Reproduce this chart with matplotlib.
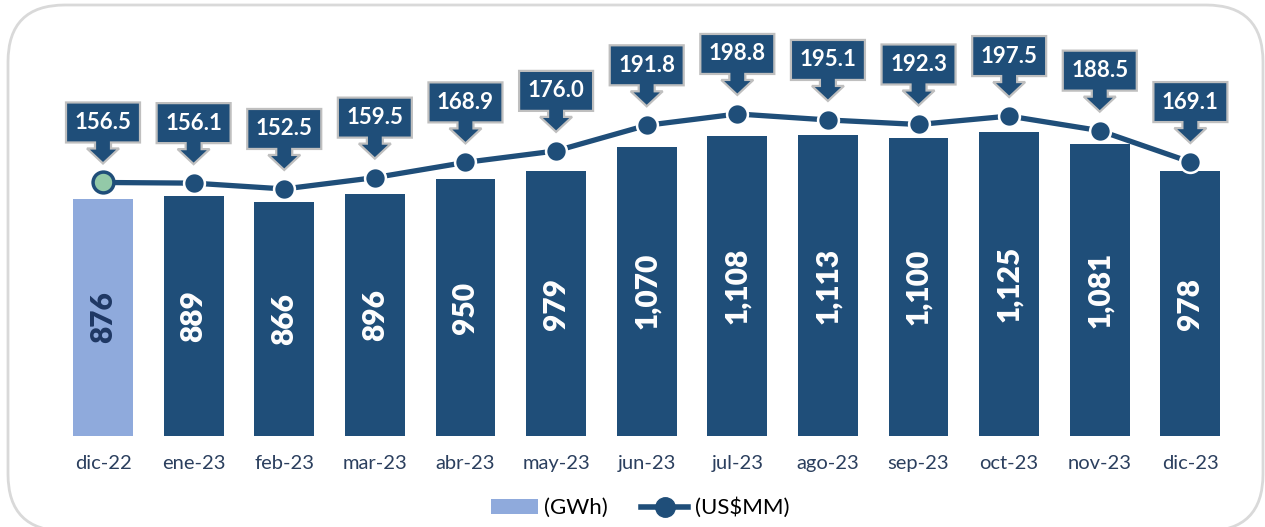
import matplotlib
matplotlib.use("Agg")
import matplotlib.pyplot as plt
from matplotlib.patches import Polygon, FancyBboxPatch, Patch
from matplotlib.lines import Line2D
from matplotlib.transforms import ScaledTranslation

plt.rcParams['font.family'] = ['Lato', 'DejaVu Sans']

months = ["dic-22", "ene-23", "feb-23", "mar-23", "abr-23", "may-23", "jun-23",
          "jul-23", "ago-23", "sep-23", "oct-23", "nov-23", "dic-23"]
gwh = [876, 889, 866, 896, 950, 979, 1070, 1108, 1113, 1100, 1125, 1081, 978]
usd = [156.5, 156.1, 152.5, 159.5, 168.9, 176.0, 191.8, 198.8, 195.1, 192.3, 197.5, 188.5, 169.1]

dark = "#1F4E79"
light = "#8FAADC"
navy_txt = "#1F3864"

W, H = 1265, 527
fig = plt.figure(figsize=(W / 100, H / 100), dpi=100)

# rounded frame
frame = FancyBboxPatch((8 / W, -4 / H), (1263 - 8) / W, (522 + 4) / H,
                       boxstyle="round,pad=0,rounding_size=0.045",
                       transform=fig.transFigure, fc="none", ec="#D9D9D9",
                       lw=2, mutation_aspect=W / H, zorder=-1)
fig.patches.append(frame)

ax = fig.add_axes([57.7 / W, (H - 436) / H, 1178 / W, 416 / H])
ax.set_facecolor("none")
x = list(range(len(months)))
colors = [light] + [dark] * (len(months) - 1)
ax.bar(x, gwh, width=0.66, color=colors, zorder=2)
ax.set_xlim(-0.5, len(months) - 0.5)
ax.set_ylim(0, 1538)
for i, v in enumerate(gwh):
    ax.text(i, v / 2, f"{v:,}", rotation=90, ha="center", va="center",
            fontsize=21.5, fontweight="heavy",
            color=navy_txt if i == 0 else "white", zorder=3)

ax.set_xticks(x)
ax.set_xticklabels(months, fontsize=14.5, color="#2B3F5E")
ax.tick_params(axis="x", length=0, pad=14)
ax.set_yticks([])
for s in ax.spines.values():
    s.set_visible(False)

ax2 = ax.twinx()
ax2.set_ylim(0, 256.8)
ax2.set_yticks([])
for s in ax2.spines.values():
    s.set_visible(False)
ax2.plot(x, usd, color=dark, lw=3.8, zorder=4, solid_capstyle="butt")
mfc = ["#93C9A8"] + [dark] * (len(months) - 1)
mec = [dark] + ["white"] * (len(months) - 1)
for i, v in enumerate(usd):
    ax2.plot(i, v, marker="o", ms=15, mfc=mfc[i], mec=mec[i], mew=1.8 if i else 2.5, zorder=5)

# callouts (shape in pixels relative to the marker)
shape = [(-37, 40), (-37, 80), (37, 80), (37, 40), (8, 40), (8, 34), (16, 34),
         (0, 19), (-16, 34), (-8, 34), (-8, 40)]
shape_in = [(a / 100, b / 100) for a, b in shape]
for i, v in enumerate(usd):
    tr = fig.dpi_scale_trans + ScaledTranslation(i, v, ax2.transData)
    poly = Polygon(shape_in, closed=True, fc=dark, ec="#BFBFBF", lw=1.6,
                   transform=tr, zorder=6, clip_on=False)
    ax2.add_patch(poly)
    ax2.text(0, 0.60, f"{v:.1f}", transform=tr, ha="center", va="center",
             fontsize=16, fontweight="bold", color="white", zorder=7)

handles = [Patch(fc=light, ec="none"),
           Line2D([0], [0], color=dark, lw=4, marker="o", ms=14, mfc=dark, mec=dark)]
fig.legend(handles, ["(GWh)", "(US$MM)"], loc="center", bbox_to_anchor=(0.506, (H - 508) / H),
           ncol=2, frameon=False, fontsize=16, handlelength=2.1, handleheight=0.68,
           handletextpad=0.3, columnspacing=1.5)

fig.savefig("out.png", dpi=100)
